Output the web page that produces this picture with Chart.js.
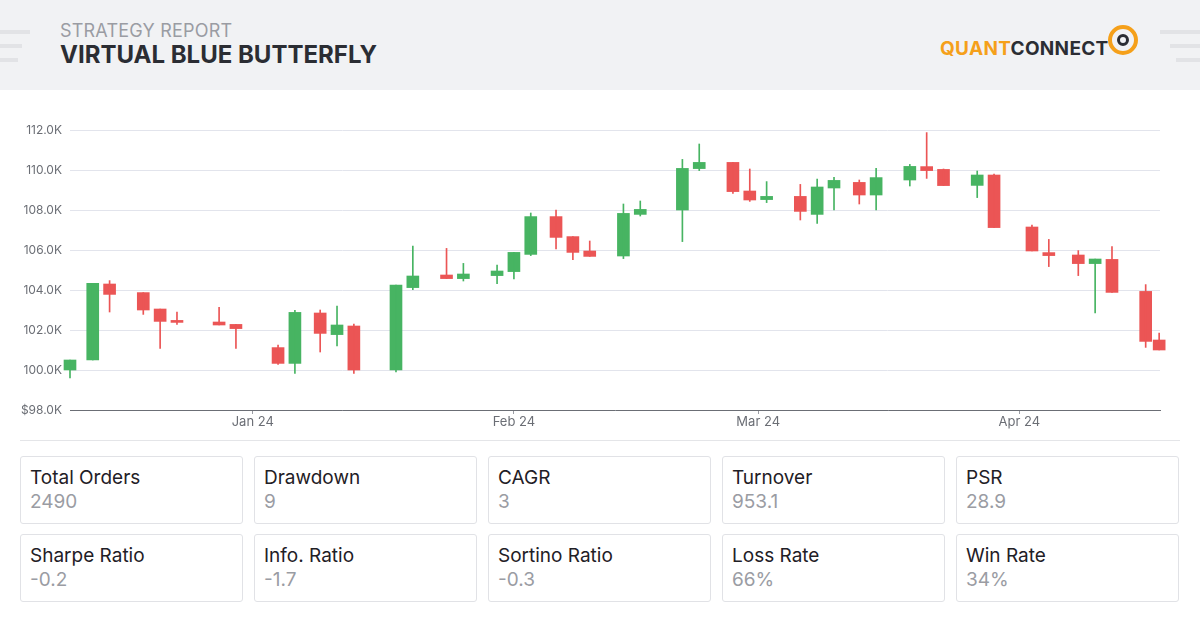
<!DOCTYPE html>
<html>
<head>
<meta charset="utf-8">
<script src="https://cdn.jsdelivr.net/npm/chart.js@4.4.0/dist/chart.umd.min.js"></script>
<style>
  body{margin:0;width:1200px;height:632px;background:#fff;font-family:Inter,"Noto Sans",sans-serif;position:relative;overflow:hidden}
  .head{position:absolute;left:0;top:0;width:1200px;height:90px;background:#f1f2f4}
  .sub{position:absolute;left:60px;top:20px;font-size:18px;color:#9a9ca3;letter-spacing:0.2px}
  .title{position:absolute;left:60px;top:40px;font-size:24px;font-weight:700;color:#2b2d33}
  .logo{position:absolute;left:940px;top:37px;font-size:19px;font-weight:700;letter-spacing:0.3px;color:#2b2d33}
  .logo span{color:#f5a01a}
  .ring{position:absolute;left:1108px;top:25px;width:22px;height:22px;border:4px solid #f5a01a;border-radius:50%}
  .ring:after{content:"";position:absolute;left:5px;top:5px;width:6px;height:6px;border:3px solid #2b2d33;border-radius:50%}
  .stripe{position:absolute;height:4px;background:#e2e3e6}
  #wrap{position:absolute;left:0;top:110px;width:1200px;height:325px}
  .sep{position:absolute;left:20px;top:440px;width:1160px;height:1px;background:#e4e5e8}
  .card{position:absolute;width:221px;height:66px;border:1px solid #e1e2e6;border-radius:3px}
  .card .k{position:absolute;left:9px;top:9px;font-size:19px;color:#1f2026}
  .card .v{position:absolute;left:9px;top:33px;font-size:19px;color:#9a9ca3}
</style>
</head>
<body>
<div class="head">
  <div class="stripe" style="left:0;top:30px;width:30px"></div>
  <div class="stripe" style="left:0;top:44px;width:22px"></div>
  <div class="stripe" style="left:0;top:58px;width:18px"></div>
  <div class="stripe" style="left:1160px;top:30px;width:40px"></div>
  <div class="stripe" style="left:1170px;top:44px;width:30px"></div>
  <div class="stripe" style="left:1176px;top:58px;width:24px"></div>
  <div class="sub">STRATEGY REPORT</div>
  <div class="title">VIRTUAL BLUE BUTTERFLY</div>
  <div class="logo"><span>QUANT</span>CONNECT</div>
  <div class="ring"></div>
</div>
<div id="wrap"><canvas id="c"></canvas></div>
<div class="sep"></div>
<div id="cards"></div>
<script>
// days since 2024-01-01
const days = [-21.7,-19,-17,-13,-11,-9,-4,-2,3,5,8,10,12,17,19,23,25,29,31,33,36,38,40,44,46,51,53,57,59,61,65,67,69,72,74,78,80,82,86,88,92.5,94.5,98,100,102,106,107.6];
// equity in thousands
const open  = [100.0,100.5,104.3,103.87,103.05,102.43,102.4,102.28,101.12,100.33,102.85,101.77,102.2,100.0,104.12,104.75,104.57,104.72,104.92,105.78,107.67,106.67,105.95,105.7,107.78,108.0,110.07,110.38,108.95,108.52,108.68,107.78,109.1,109.38,108.75,109.5,110.17,110.03,109.23,109.75,107.15,105.87,105.75,105.32,105.53,103.93,101.5];
const close = [100.5,104.33,103.78,103.0,102.43,102.38,102.25,102.07,100.33,102.88,101.83,102.25,100.0,104.25,104.7,104.57,104.8,104.95,105.88,107.67,106.63,105.88,105.68,107.83,108.03,110.08,110.38,108.92,108.5,108.68,107.93,109.15,109.48,108.75,109.62,110.18,109.97,109.22,109.75,107.12,105.95,105.72,105.32,105.55,103.88,101.43,101.0];
const high  = [100.5,104.33,104.47,103.87,103.05,102.9,103.13,102.28,101.25,102.98,103.0,103.2,102.3,104.25,106.2,106.08,105.33,105.25,105.88,107.85,108.0,106.67,106.45,108.3,108.45,110.53,111.3,110.38,110.05,109.42,109.28,109.55,109.63,109.5,110.08,110.28,111.87,110.05,109.95,109.8,107.25,106.53,105.97,105.55,106.17,104.27,101.85];
const low   = [99.6,100.5,102.9,102.78,101.08,102.28,102.25,101.08,100.28,99.83,100.9,101.2,99.83,99.9,104.02,104.57,104.45,104.32,104.55,105.72,106.05,105.52,105.68,105.57,107.7,106.42,109.97,108.83,108.43,108.37,107.5,107.33,108.0,108.3,108.0,109.2,109.58,109.22,108.62,107.12,105.95,105.17,104.72,102.85,103.88,101.13,101.0];
const tickDays = [0,31,60,91];
const tickLabels = ["Jan 24","Feb 24","Mar 24","Apr 24"];
const statNames = ["Total Orders","Drawdown","CAGR","Turnover","PSR","Sharpe Ratio","Info. Ratio","Sortino Ratio","Loss Rate","Win Rate"];
const statValues = ["2490","9","3","953.1","28.9","-0.2","-1.7","-0.3","66%","34%"];

const GREEN = "#47b462", RED = "#eb5555";
const col = days.map((d,i)=> close[i]>=open[i] ? GREEN : RED);

const cards = document.getElementById("cards");
statNames.forEach((n,i)=>{
  const c = document.createElement("div");
  c.className = "card";
  c.style.left = (20 + (i%5)*234) + "px";
  c.style.top = (456 + Math.floor(i/5)*78) + "px";
  c.innerHTML = '<div class="k">'+n+'</div><div class="v">'+statValues[i]+'</div>';
  cards.appendChild(c);
});

new Chart(document.getElementById("c"), {
  type:'bar',
  data:{
    datasets:[
      {data:days.map((d,i)=>({x:d,y:[low[i],high[i]]})), backgroundColor:col, barThickness:1, grouped:false, clip:false},
      {data:days.map((d,i)=>({x:d,y:[open[i],close[i]]})), backgroundColor:col, barThickness:12, minBarLength:2, grouped:false, clip:false}
    ]
  },
  options:{
    responsive:true, maintainAspectRatio:false, animation:false,
    layout:{padding:{left:0,right:40,top:20,bottom:0}},
    plugins:{legend:{display:false},tooltip:{enabled:false}},
    scales:{
      x:{type:'linear', min:-21.7, max:107.7, offset:false,
        afterBuildTicks:a=>{a.ticks = tickDays.map(v=>({value:v}));},
        afterFit:a=>{a.height = 25;},
        ticks:{autoSkip:false, maxRotation:0, color:'#6b6e75', font:{family:'Inter',size:13}, padding:0,
          callback:v=>tickLabels[tickDays.indexOf(v)]},
        grid:{offset:false, drawOnChartArea:false, drawTicks:true, tickLength:4, color:'#9a9ca3'},
        border:{color:'#6b6e75'}},
      y:{min:98, max:112,
        afterBuildTicks:a=>{a.ticks = [98,100,102,104,106,108,110,112].map(v=>({value:v}));},
        afterFit:a=>{a.width = 70;},
        ticks:{color:'#6b6e75', font:{family:'Inter',size:12}, padding:8,
          callback:v=>(v===98?'$':'')+v.toFixed(1)+'K'},
        grid:{color:'#e2e4ec', drawTicks:false},
        border:{display:false}}
    }
  }
});
</script>
</body>
</html>
